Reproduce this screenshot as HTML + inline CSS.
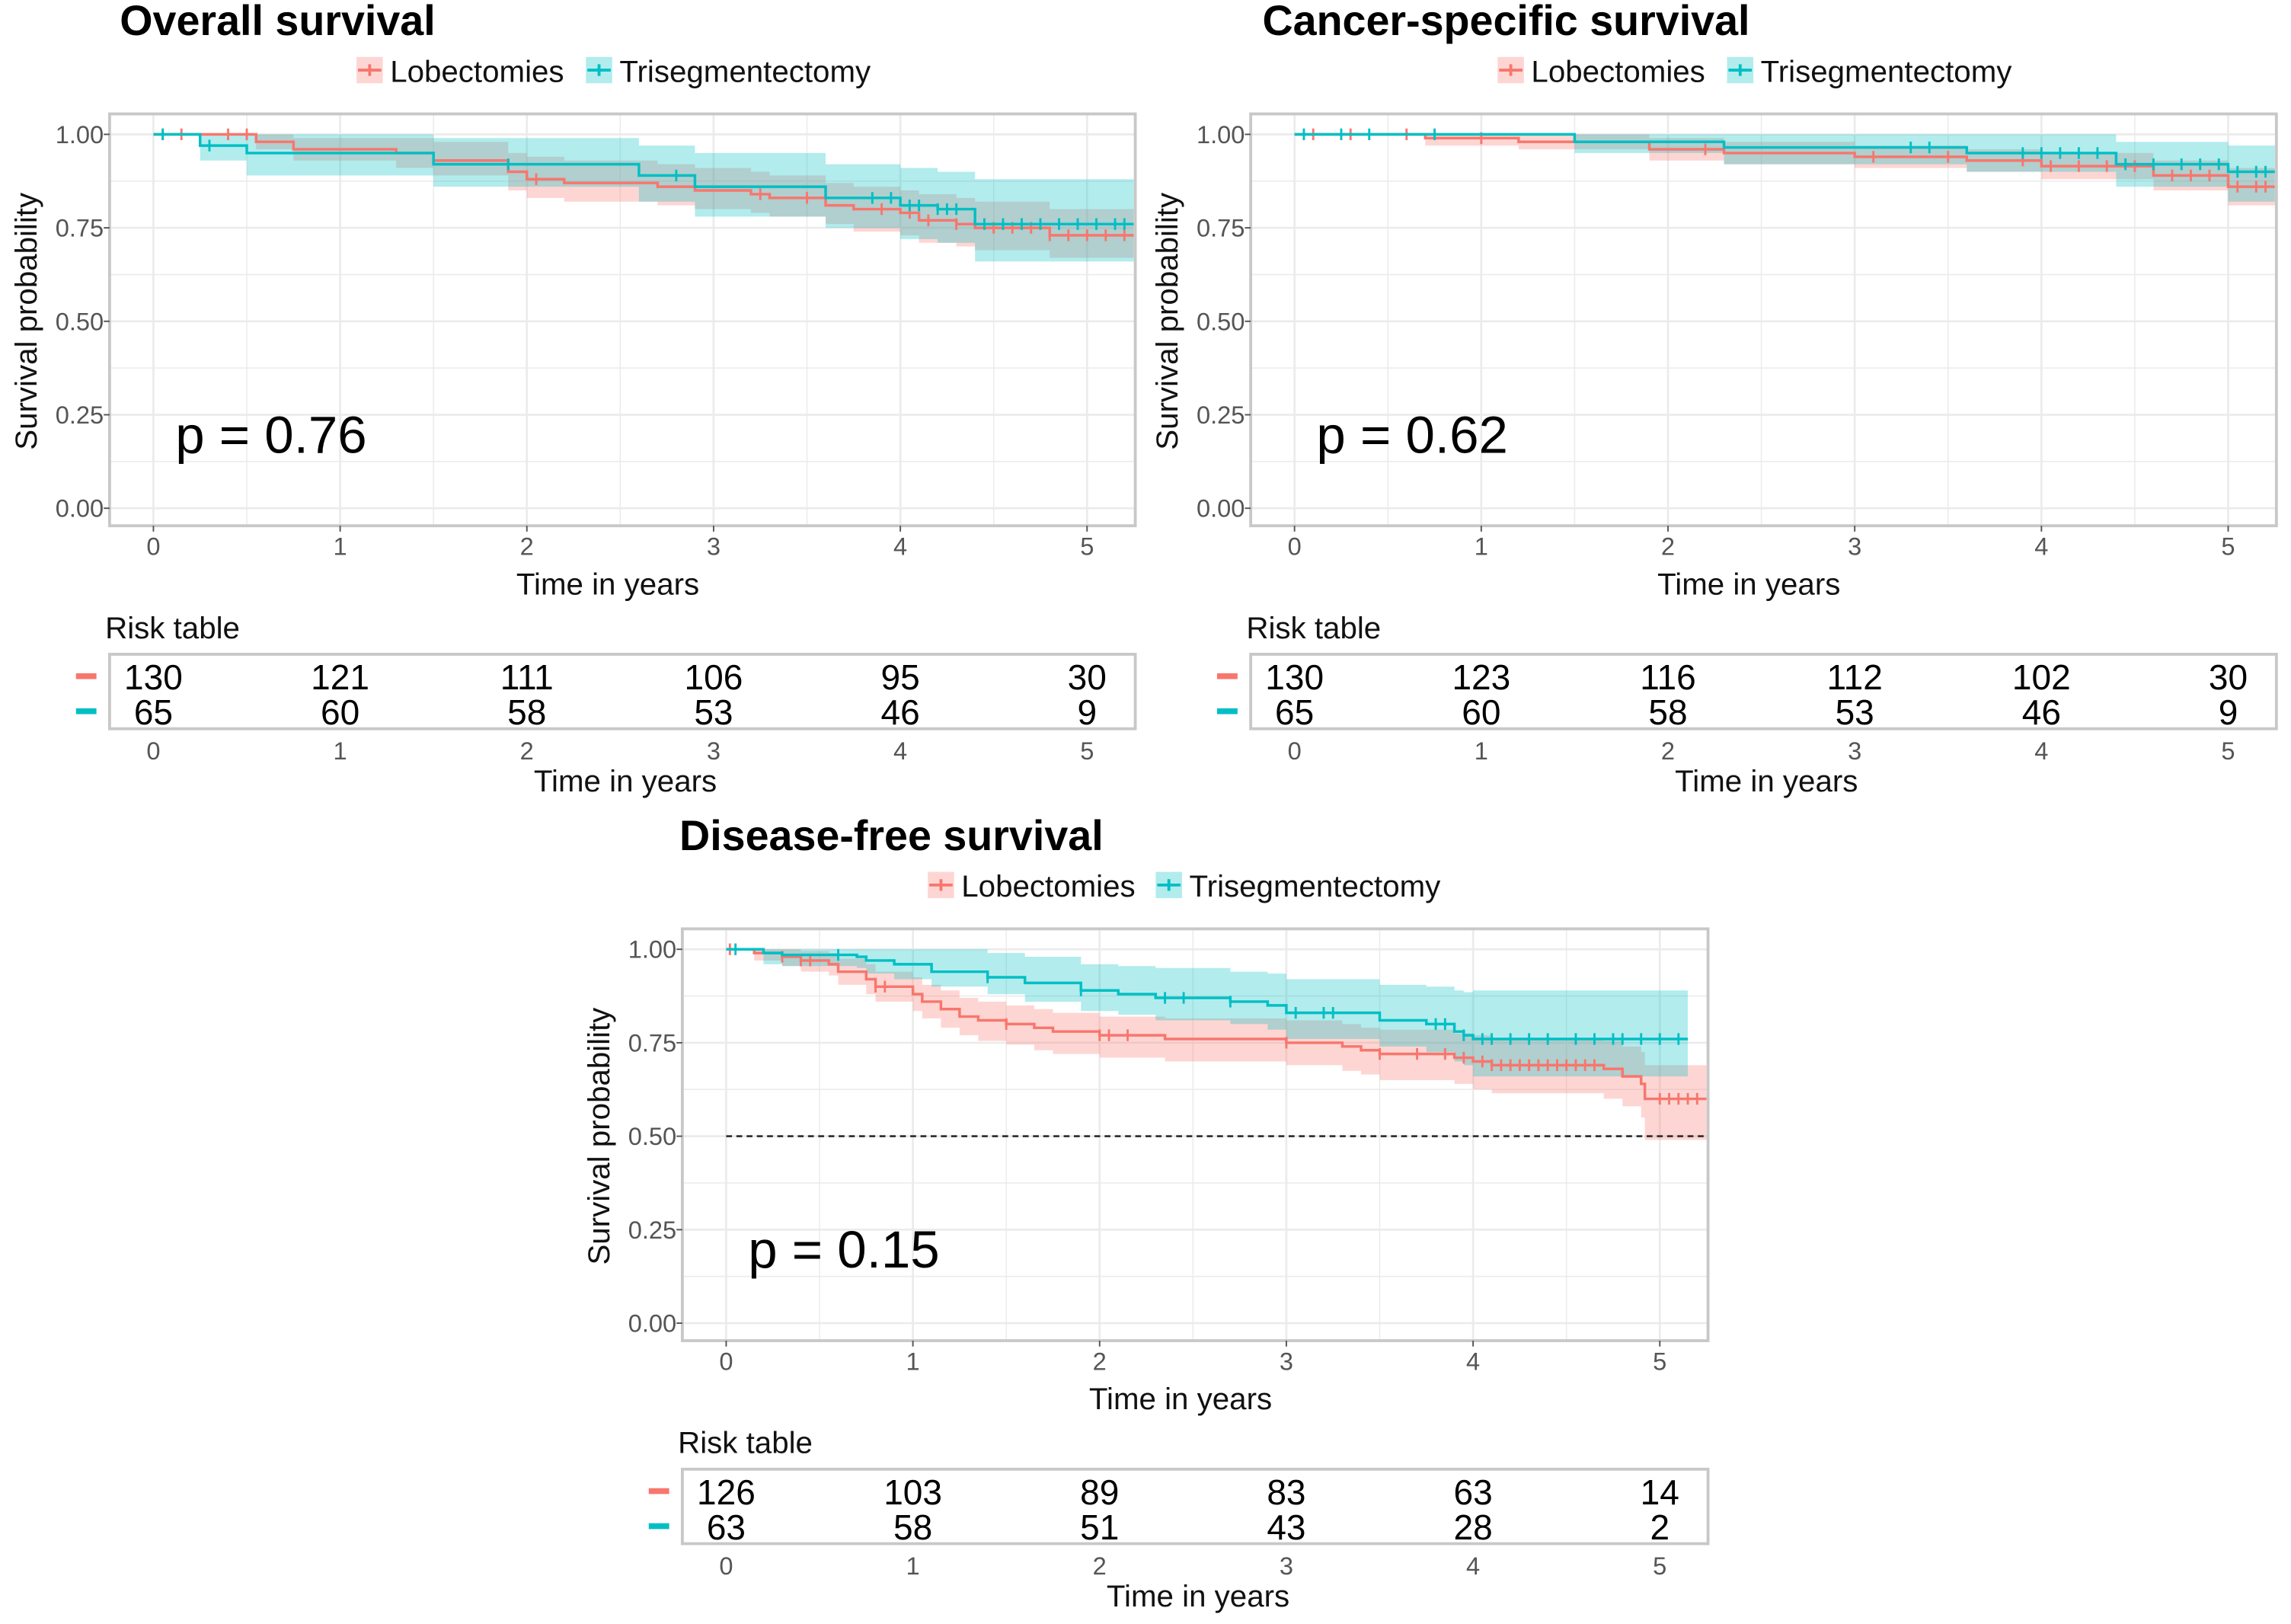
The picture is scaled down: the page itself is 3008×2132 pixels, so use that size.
<!DOCTYPE html>
<html><head><meta charset="utf-8"><style>html,body{margin:0;padding:0;background:#fff}svg{display:block}text{font-family:"Liberation Sans",sans-serif}</style></head>
<body>
<svg id="fig" xmlns="http://www.w3.org/2000/svg" width="3008" height="2132" viewBox="0 0 1568 1112" preserveAspectRatio="none"></svg>
<script>
// ---- Overall survival data ----
const osLobT=[0,0.55,0.75,1.3,1.5,1.9,2.0,2.2,2.7,2.9,3.2,3.3,3.6,3.75,4.0,4.1,4.3,4.4,4.8];
const osLobS=[1,0.98,0.96,0.95,0.93,0.90,0.88,0.87,0.86,0.85,0.84,0.83,0.81,0.80,0.79,0.77,0.76,0.75,0.73];
const osLobLo=[1,0.96,0.93,0.91,0.89,0.85,0.83,0.82,0.81,0.80,0.79,0.78,0.76,0.74,0.73,0.71,0.70,0.69,0.67];
const osLobHi=[1,1,0.99,0.99,0.98,0.95,0.94,0.93,0.92,0.91,0.90,0.89,0.87,0.86,0.85,0.84,0.83,0.82,0.80];
const osLobC=[0.05,0.15,0.4,0.5,2.05,3.25,3.5,3.9,4.05,4.15,4.3,4.5,4.6,4.7,4.8,4.9,5.0,5.1,5.2];
const osTriT=[0,0.25,0.5,1.5,2.6,2.9,3.6,4.0,4.2,4.4];
const osTriS=[1,0.97,0.95,0.92,0.89,0.86,0.83,0.81,0.80,0.76];
const osTriLo=[1,0.93,0.89,0.86,0.82,0.78,0.75,0.72,0.71,0.66];
const osTriHi=[1,1,1,0.99,0.97,0.95,0.92,0.91,0.90,0.88];
const osTriC=[0.05,0.3,1.9,2.8,3.85,3.95,4.05,4.1,4.2,4.25,4.3,4.45,4.55,4.65,4.75,4.85,4.95,5.05,5.15,5.2];
const osRiskLob=[130,121,111,106,95,30];
const osRiskTri=[65,60,58,53,46,9];
// ---- Cancer-specific survival data ----
const csLobT=[0,0.7,1.2,1.9,2.3,3.0,3.6,4.0,4.6,5.0];
const csLobS=[1,0.99,0.98,0.96,0.95,0.94,0.93,0.915,0.89,0.86];
const csLobLo=[1,0.97,0.96,0.93,0.92,0.91,0.90,0.88,0.85,0.81];
const csLobHi=[1,1,1,0.99,0.98,0.97,0.96,0.95,0.93,0.91];
const csLobC=[0.1,0.3,0.6,1.0,2.2,3.1,3.5,3.9,4.05,4.2,4.35,4.5,4.7,4.8,4.9,5.05,5.15,5.2];
const csTriT=[0,1.5,2.3,3.6,4.4,5.0];
const csTriS=[1,0.98,0.965,0.95,0.92,0.90];
const csTriLo=[1,0.95,0.92,0.90,0.86,0.82];
const csTriHi=[1,1,1,1,0.98,0.97];
const csTriC=[0.05,0.25,0.4,0.75,3.3,3.4,3.9,4.0,4.1,4.2,4.3,4.45,4.6,4.75,4.85,4.95,5.05,5.15,5.2];
const csRiskLob=[130,123,116,112,102,30];
const csRiskTri=[65,60,58,53,46,9];
// ---- Disease-free survival data ----
const dfLobT=[0,0.15,0.3,0.4,0.55,0.6,0.75,0.8,1.0,1.05,1.15,1.25,1.35,1.5,1.65,1.75,2.0,2.35,3.0,3.3,3.4,3.5,3.9,4.0,4.1,4.7,4.8,4.9,4.92];
const dfLobS=[1,0.99,0.98,0.97,0.96,0.94,0.92,0.90,0.88,0.86,0.84,0.82,0.81,0.80,0.79,0.78,0.77,0.76,0.75,0.74,0.73,0.72,0.71,0.70,0.69,0.68,0.66,0.64,0.60];
const dfLobLo=[1,0.97,0.955,0.94,0.93,0.905,0.88,0.86,0.835,0.815,0.79,0.77,0.755,0.745,0.73,0.72,0.71,0.70,0.69,0.675,0.665,0.65,0.64,0.625,0.615,0.6,0.58,0.55,0.49];
const dfLobHi=[1,1,1,0.995,0.99,0.975,0.96,0.94,0.925,0.905,0.89,0.87,0.86,0.85,0.84,0.83,0.82,0.815,0.81,0.80,0.79,0.785,0.775,0.77,0.76,0.755,0.74,0.725,0.69];
const dfLobC=[0.02,0.3,0.4,0.45,0.8,0.85,1.5,2.0,2.05,2.15,3.0,3.5,3.7,3.85,3.95,4.05,4.1,4.15,4.2,4.25,4.3,4.35,4.4,4.45,4.5,4.55,4.6,4.65,5.0,5.05,5.1,5.15,5.2];
const dfTriT=[0,0.2,0.3,0.7,0.75,0.9,1.1,1.4,1.6,1.9,2.1,2.3,2.7,2.9,3.0,3.5,3.75,3.9,3.95,4.0];
const dfTriS=[1,0.99,0.985,0.98,0.97,0.96,0.94,0.925,0.91,0.89,0.88,0.87,0.86,0.85,0.83,0.81,0.80,0.78,0.77,0.76];
const dfTriLo=[1,0.96,0.955,0.95,0.935,0.92,0.9,0.88,0.86,0.835,0.825,0.81,0.80,0.785,0.76,0.74,0.725,0.70,0.69,0.66];
const dfTriHi=[1,1,1,1,1,1,1,0.99,0.98,0.96,0.955,0.95,0.94,0.935,0.92,0.905,0.90,0.89,0.885,0.89];
const dfTriC=[0.05,0.6,1.4,1.9,2.35,2.45,2.7,3.05,3.2,3.25,3.8,3.85,3.95,4.05,4.1,4.2,4.3,4.4,4.55,4.65,4.75,4.8,4.9,5.0,5.1];
const dfRiskLob=[126,103,89,83,63,14];
const dfRiskTri=[63,58,51,43,28,2];
const xTicks=[0,1,2,3,4,5];
const yTicks=[0,0.25,0.5,0.75,1];
const yTickLabels=["0.00","0.25","0.50","0.75","1.00"];

const NS="http://www.w3.org/2000/svg";
const svg=document.getElementById('fig');
const RED="#F8766D",TEAL="#00BFC4";
function mk(tag,attrs,parent,txt){const e=document.createElementNS(NS,tag);for(const k in attrs)e.setAttribute(k,attrs[k]);if(txt!==undefined)e.textContent=txt;(parent||svg).appendChild(e);return e;}

function panel(P){
  const g=mk('g',{});
  
  
  const L=P.bx, R=P.bx+702, T=P.by, B=P.by+282;
  const x0=L+30, ppy=127.8;
  const X=t=>x0+t*ppy;
  const Y=s=>T+14+(1-s)*256;
  const tt=mk('text',{x:P.tx,y:T-54,'font-size':29,'font-weight':'bold',fill:'#000'},g,P.title);
  
  
  const lg=mk('g',{},g);
  
  
  [[P.lk1,RED,'rgba(248,118,109,0.3)','Lobectomies'],[P.lk2,TEAL,'rgba(0,191,196,0.3)','Trisegmentectomy']].forEach(([lx,c,f,lab])=>{
    const e=mk('g',{},lg);
    
    
    mk('rect',{x:lx,y:T-39,width:18,height:18,fill:f},e);
    mk('line',{x1:lx+1,x2:lx+17,y1:T-30,y2:T-30,stroke:c,'stroke-width':2},e);
    mk('line',{x1:lx+9,x2:lx+9,y1:T-34,y2:T-26,stroke:c,'stroke-width':2},e);
    mk('text',{x:lx+23,y:T-22,'font-size':21,fill:'#111'},e,lab);
  });
  mk('rect',{x:L,y:T,width:702,height:282,fill:'#fff'},g);
  const gr=mk('g',{},g);
  
  
  for(let v=-0.125;v<=1.13;v+=0.125){const yy=Y(v);if(yy<T||yy>B)continue;mk('line',{x1:L,x2:R,y1:yy,y2:yy,stroke:'#ebebeb','stroke-width':Math.abs(v*4-Math.round(v*4))<1e-6?1.4:0.8},gr);}
  for(let v=-0.5;v<=5.5;v+=0.5){const xx=X(v);if(xx<L||xx>R)continue;mk('line',{x1:xx,x2:xx,y1:T,y2:B,stroke:'#ebebeb','stroke-width':Number.isInteger(v)?1.4:0.8},gr);}
  const series=[[P.lobT,P.lobS,P.lobLo,P.lobHi,P.lobC,P.lobEnd,RED,'rgba(248,118,109,0.3)','lobectomies'],[P.triT,P.triS,P.triLo,P.triHi,P.triC,P.triEnd,TEAL,'rgba(0,191,196,0.3)','trisegmentectomy']];
  series.forEach(([ts,ss,lo,hi,cs,end,col,fill,nm])=>{
    let d='M'+X(ts[0])+','+Y(hi[0]);
    for(let i=1;i<ts.length;i++)d+='H'+X(ts[i])+'V'+Y(hi[i]);
    d+='H'+X(end)+'V'+Y(lo[lo.length-1]);
    for(let i=ts.length-1;i>=1;i--)d+='H'+X(ts[i])+'V'+Y(lo[i-1]);
    d+='H'+X(ts[0])+'Z';
    const band=mk('path',{d:d,fill:fill,stroke:'none'},g);
    
    
  });
  series.forEach(([ts,ss,lo,hi,cs,end,col,fill,nm])=>{
    let d='M'+X(ts[0])+','+Y(ss[0]);
    for(let i=1;i<ts.length;i++)d+='H'+X(ts[i])+'V'+Y(ss[i]);
    d+='H'+X(end);
    const ln=mk('path',{d:d,fill:'none',stroke:col,'stroke-width':1.8},g);
    
    
    const sAt=t=>{let s=ss[0];for(let i=0;i<ts.length;i++)if(ts[i]<=t)s=ss[i];return s;};
    cs.forEach(t=>{const cm=mk('line',{x1:X(t),x2:X(t),y1:Y(sAt(t))-4,y2:Y(sAt(t))+4,stroke:col,'stroke-width':1.5},g);
      
      });
  });
  if(P.median){const ml=mk('line',{x1:X(0),x2:R,y1:Y(0.5),y2:Y(0.5),stroke:'#333','stroke-width':1.4,'stroke-dasharray':'4,3'},g);
    
    }
  mk('rect',{x:L,y:T,width:702,height:282,fill:'none',stroke:'#c8c8c8','stroke-width':2},g);
  yTicks.forEach((v,i)=>{mk('line',{x1:L-4,x2:L,y1:Y(v),y2:Y(v),stroke:'#555'},g);
    const t=mk('text',{x:L-4,y:Y(v)+6,'font-size':17,fill:'#555','text-anchor':'end'},g,yTickLabels[i]);
    
    });
  xTicks.forEach(v=>{mk('line',{x1:X(v),x2:X(v),y1:B,y2:B+4,stroke:'#555'},g);
    const t=mk('text',{x:X(v),y:B+20,'font-size':17,fill:'#555','text-anchor':'middle'},g,String(v));
    
    });
  const yt=mk('text',{x:0,y:0,'font-size':21,fill:'#111','text-anchor':'middle',transform:'translate('+(L-50)+','+(T+142)+') rotate(-90)'},g,'Survival probability');
  
  
  const xt=mk('text',{x:(L+R)/2-10,y:B+47,'font-size':21,fill:'#111','text-anchor':'middle'},g,'Time in years');
  
  
  const pv=mk('text',{x:L+45,y:T+232,'font-size':36,fill:'#000'},g,P.p);
  
  
  const rt=mk('g',{},g);
  
  
  const RT=T+370;
  mk('text',{x:L-3,y:RT-11,'font-size':21,fill:'#111'},rt,'Risk table');
  mk('rect',{x:L,y:RT,width:702,height:51,fill:'#fff',stroke:'#c8c8c8','stroke-width':2},rt);
  mk('rect',{x:L-23,y:RT+13,width:14,height:4,fill:RED},rt);
  mk('rect',{x:L-23,y:RT+37,width:14,height:4,fill:TEAL},rt);
  xTicks.forEach((v,i)=>{
    mk('text',{x:X(v),y:RT+24,'font-size':24,fill:'#000','text-anchor':'middle'},rt,String(P.riskLob[i]));
    mk('text',{x:X(v),y:RT+48,'font-size':24,fill:'#000','text-anchor':'middle'},rt,String(P.riskTri[i]));
    mk('text',{x:X(v),y:RT+72,'font-size':17,fill:'#555','text-anchor':'middle'},rt,String(v));
  });
  mk('text',{x:(L+R)/2+2,y:RT+94,'font-size':21,fill:'#111','text-anchor':'middle'},rt,'Time in years');
}

panel({name:'overall-survival-panel',title:'Overall survival',tx:82,bx:75,by:78,lk1:244,lk2:401,p:'p = 0.76',
  lobT:osLobT,lobS:osLobS,lobLo:osLobLo,lobHi:osLobHi,lobC:osLobC,lobEnd:5.25,
  triT:osTriT,triS:osTriS,triLo:osTriLo,triHi:osTriHi,triC:osTriC,triEnd:5.25,riskLob:osRiskLob,riskTri:osRiskTri});
panel({name:'cancer-specific-survival-panel',title:'Cancer-specific survival',tx:864,bx:856,by:78,lk1:1025,lk2:1182,p:'p = 0.62',
  lobT:csLobT,lobS:csLobS,lobLo:csLobLo,lobHi:csLobHi,lobC:csLobC,lobEnd:5.25,
  triT:csTriT,triS:csTriS,triLo:csTriLo,triHi:csTriHi,triC:csTriC,triEnd:5.25,riskLob:csRiskLob,riskTri:csRiskTri});
panel({name:'disease-free-survival-panel',title:'Disease-free survival',tx:465,bx:467,by:636,lk1:635,lk2:791,p:'p = 0.15',median:true,
  lobT:dfLobT,lobS:dfLobS,lobLo:dfLobLo,lobHi:dfLobHi,lobC:dfLobC,lobEnd:5.25,
  triT:dfTriT,triS:dfTriS,triLo:dfTriLo,triHi:dfTriHi,triC:dfTriC,triEnd:5.15,riskLob:dfRiskLob,riskTri:dfRiskTri});
</script>
</body></html>
